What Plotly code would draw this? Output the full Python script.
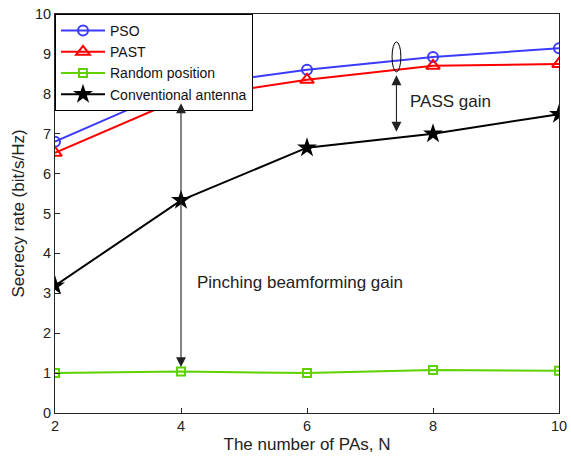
import plotly.graph_objects as go

N = [2, 4, 6, 8, 10]
pso = [6.80, 8.18, 8.60, 8.92, 9.14]
past = [6.52, 7.88, 8.35, 8.70, 8.75]
random_pos = [1.00, 1.04, 1.00, 1.08, 1.06]
conventional = [3.19, 5.33, 6.65, 7.00, 7.49]

font_family = "Liberation Sans, Arial, sans-serif"

fig = go.Figure()
fig.add_trace(go.Scatter(x=N, y=pso, mode="lines+markers", name="PSO",
                         line=dict(color="#3b3bff", width=2),
                         marker=dict(symbol="circle-open", size=10, color="#3b3bff", line=dict(width=2))))
fig.add_trace(go.Scatter(x=N, y=past, mode="lines+markers", name="PAST",
                         line=dict(color="#ff0000", width=2),
                         marker=dict(symbol="triangle-up-open", size=12, color="#ff0000", line=dict(width=2))))
fig.add_trace(go.Scatter(x=N, y=random_pos, mode="lines+markers", name="Random position",
                         line=dict(color="#5fd000", width=2),
                         marker=dict(symbol="square-open", size=8, color="#5fd000", line=dict(width=2))))
fig.add_trace(go.Scatter(x=N, y=conventional, mode="lines+markers", name="Conventional antenna",
                         line=dict(color="#000000", width=2),
                         marker=dict(symbol="star", size=15, color="#000000")))

# Pinching beamforming gain arrow (double-headed)
fig.add_annotation(x=4, y=1.15, ax=4, ay=7.8, xref="x", yref="y", axref="x", ayref="y",
                   text="", showarrow=True, arrowhead=2, startarrowhead=2, arrowside="end+start",
                   arrowwidth=1.1, arrowsize=1.8, startarrowsize=1.8, arrowcolor="#222222")
fig.add_annotation(x=4.22, y=3.27, xref="x", yref="y", text="Pinching beamforming gain",
                   showarrow=False, xanchor="left", font=dict(size=17, color="#222222", family=font_family))

# PASS gain arrow
fig.add_annotation(x=7.42, y=7.05, ax=7.42, ay=8.5, xref="x", yref="y", axref="x", ayref="y",
                   text="", showarrow=True, arrowhead=2, startarrowhead=2, arrowside="end+start",
                   arrowwidth=1.1, arrowsize=1.8, startarrowsize=1.8, arrowcolor="#222222")
fig.add_annotation(x=7.6, y=7.8, xref="x", yref="y", text="PASS gain",
                   showarrow=False, xanchor="left", font=dict(size=17, color="#222222", family=font_family))
fig.add_shape(type="circle", xref="x", yref="y", x0=7.35, x1=7.49, y0=8.55, y1=9.3,
              line=dict(color="#000000", width=1))

fig.update_layout(
    width=571, height=462,
    margin=dict(l=55, r=12, t=14, b=49, autoexpand=False),
    paper_bgcolor="white", plot_bgcolor="white",
    font=dict(family=font_family, size=14, color="#222222"),
    legend=dict(x=0, y=1, xanchor="left", yanchor="top", bgcolor="white",
                bordercolor="#000000", borderwidth=1, font=dict(size=14, color="#111111"),
                tracegroupgap=0, itemwidth=44),
    showlegend=True,
)
fig.update_xaxes(range=[2, 10], tickvals=[2, 4, 6, 8, 10], showgrid=False, zeroline=False,
                 showline=True, linecolor="#262626", linewidth=1, mirror=True, automargin=False,
                 ticks="inside", ticklen=5, tickcolor="#262626", tickfont=dict(size=14.5),
                 title=dict(text="The number of PAs, N", font=dict(size=17), standoff=4))
fig.update_yaxes(range=[0, 10], tickvals=list(range(0, 11)), showgrid=False, zeroline=False,
                 showline=True, linecolor="#262626", linewidth=1, mirror=True, automargin=False,
                 ticks="inside", ticklen=5, tickcolor="#262626", tickfont=dict(size=14.5),
                 title=dict(text="Secrecy rate (bit/s/Hz)", font=dict(size=17), standoff=6))

fig.write_html("out.html")
